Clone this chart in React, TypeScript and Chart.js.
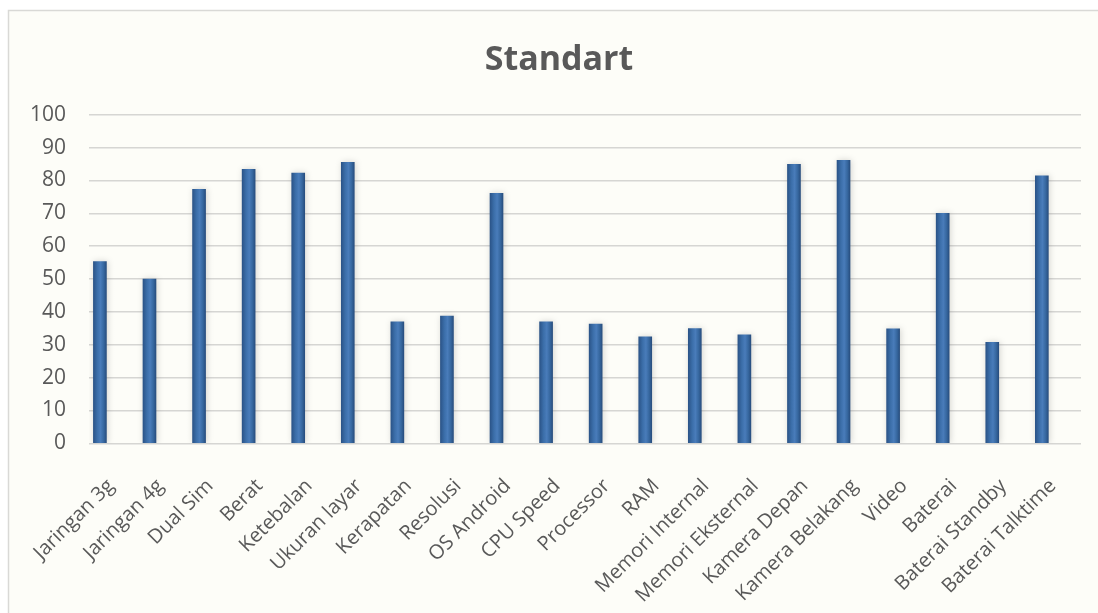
import { useEffect, useRef } from "react";
import { Chart, registerables } from "chart.js";

Chart.register(...registerables);

// Feature categories along the horizontal axis
const categories = [
  "Jaringan 3g",
  "Jaringan 4g",
  "Dual Sim",
  "Berat",
  "Ketebalan",
  "Ukuran layar",
  "Kerapatan",
  "Resolusi",
  "OS Android",
  "CPU Speed",
  "Processor",
  "RAM",
  "Memori Internal",
  "Memori Eksternal",
  "Kamera Depan",
  "Kamera Belakang",
  "Video",
  "Baterai",
  "Baterai Standby",
  "Baterai Talktime",
];

// Score of each feature
const scores = [
  55.3, 50, 77.3, 83.4, 82.2, 85.5, 37, 38.7, 76.1, 37, 36.3, 32.4, 34.9, 33,
  84.9, 86.1, 34.8, 70, 30.7, 81.4,
];

// Value axis range
const yMin = 0;
const yMax = 100;
const yStep = 10;

const chartTitle = "Standart";

const FONT = "'Open Sans', 'DejaVu Sans', sans-serif";
const TEXT = "#595959";

// Page background and the thin frame around the chart
const framePlugin = {
  id: "frame",
  beforeDraw(chart: Chart) {
    const { ctx, width, height } = chart;
    ctx.save();
    ctx.fillStyle = "#ffffff";
    ctx.fillRect(0, 0, width, height);
    ctx.fillStyle = "#fdfdf8";
    ctx.fillRect(8, 10, width, height);
    ctx.strokeStyle = "#d9d9d6";
    ctx.lineWidth = 1.5;
    ctx.strokeRect(8.5, 10.5, width + 10, height + 10);
    ctx.restore();
  },
};

// Chart heading, centred over the framed area
const headingPlugin = {
  id: "heading",
  afterDraw(chart: Chart) {
    const ctx = chart.ctx;
    ctx.save();
    ctx.fillStyle = TEXT;
    ctx.font = `bold 34px ${FONT}`;
    ctx.textAlign = "center";
    ctx.textBaseline = "alphabetic";
    ctx.fillText(chartTitle, 559, 70);
    ctx.restore();
  },
};

// Soft drop shadow behind the columns
const shadowPlugin = {
  id: "columnShadow",
  beforeDatasetsDraw(chart: Chart) {
    const ctx = chart.ctx;
    ctx.save();
    ctx.shadowColor = "rgba(60, 60, 60, 0.22)";
    ctx.shadowBlur = 6;
    ctx.shadowOffsetX = 1;
    ctx.shadowOffsetY = 0;
  },
  afterDatasetsDraw(chart: Chart) {
    chart.ctx.restore();
  },
};

function columnFill(ctx: any) {
  const chart = ctx.chart as Chart;
  const xs = chart.scales?.x;
  const fallback = "#3a6ea9";
  if (!xs || ctx.dataIndex === undefined) return fallback;
  const cx = xs.getPixelForValue(ctx.dataIndex);
  if (!isFinite(cx)) return fallback;
  const half = 6.5;
  const g = chart.ctx.createLinearGradient(cx - half, 0, cx + half, 0);
  g.addColorStop(0, "#2b5488");
  g.addColorStop(0.3, "#3b6ea9");
  g.addColorStop(0.55, "#497cba");
  g.addColorStop(0.8, "#36679f");
  g.addColorStop(1, "#284e7f");
  return g;
}

export default function App() {
  const canvasRef = useRef<HTMLCanvasElement | null>(null);

  useEffect(() => {
    const canvas = canvasRef.current;
    if (!canvas) return;

    const chart = new Chart(canvas, {
      type: "bar",
      data: {
        datasets: [
          {
            label: chartTitle,
            data: scores.map((v, i) => ({ x: i, y: v })),
            backgroundColor: columnFill,
            borderWidth: 0,
            barThickness: 13,
          },
        ],
      },
      options: {
        responsive: false,
        animation: false,
        layout: { padding: { left: 0, right: 17, top: 114.7, bottom: 0 } },
        plugins: {
          legend: { display: false },
          tooltip: { enabled: false },
          title: { display: false },
        },
        scales: {
          x: {
            type: "linear",
            min: -0.22,
            max: 19.79,
            offset: false,
            grid: { display: false, offset: false },
            border: { display: false },
            ticks: {
              stepSize: 1,
              includeBounds: false,
              autoSkip: false,
              minRotation: 45,
              maxRotation: 45,
              labelOffset: 11,
              padding: 23,
              color: TEXT,
              font: { family: FONT, size: 20 },
              callback: (v: any) => {
                const i = Number(v);
                return Number.isInteger(i) && categories[i] ? categories[i] : "";
              },
            },
            afterFit: (s: any) => {
              s.height = 169.7;
            },
          },
          y: {
            min: yMin,
            max: yMax,
            grid: { color: "#d6d6d3", lineWidth: 1.5, drawTicks: false },
            border: { display: false },
            ticks: {
              stepSize: yStep,
              padding: 23,
              color: TEXT,
              font: { family: FONT, size: 21 },
            },
            afterFit: (s: any) => {
              s.width = 89;
            },
          },
        },
      },
      plugins: [framePlugin, shadowPlugin, headingPlugin],
    });

    return () => chart.destroy();
  }, []);

  return (
    <div style={{ position: "fixed", left: 0, top: 0, width: 1098, height: 613 }}>
      <canvas ref={canvasRef} width={1098} height={613} style={{ display: "block" }} />
    </div>
  );
}
